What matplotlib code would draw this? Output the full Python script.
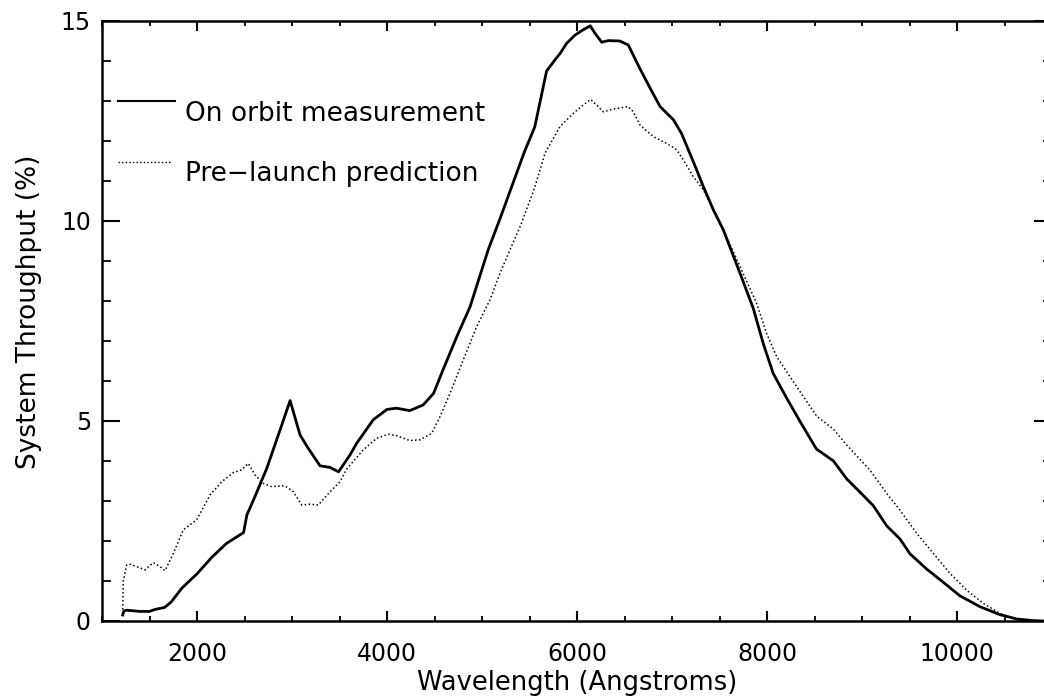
import matplotlib
matplotlib.use('Agg')
import matplotlib.pyplot as plt
from matplotlib.ticker import MultipleLocator, FixedLocator
from matplotlib.lines import Line2D

# On orbit measurement (solid)
wl_orbit = [1218, 1230, 1260, 1400, 1500, 1560, 1660, 1730, 1840, 2000,
            2155, 2310, 2490, 2525, 2610, 2735, 2875, 2980, 3085, 3170,
            3295, 3400, 3490, 3610, 3680, 3855, 4000, 4100, 4240, 4380,
            4490, 4590, 4735, 4875, 5065, 5190, 5445, 5555, 5680, 5775,
            5820, 5890, 5980, 6065, 6140, 6190, 6260, 6330, 6450, 6540,
            6660, 6770, 6875, 7015, 7100, 7225, 7330, 7435, 7540, 7715,
            7855, 7960, 8065, 8205, 8345, 8520, 8700, 8840, 9000, 9120,
            9260, 9400, 9505, 9680, 9855, 10030, 10240, 10450, 10630, 10800,
            10900]
tp_orbit = [0.15, 0.25, 0.27, 0.24, 0.24, 0.29, 0.34, 0.48, 0.82, 1.18,
            1.59, 1.94, 2.21, 2.65, 3.11, 3.82, 4.78, 5.51, 4.65, 4.32,
            3.88, 3.84, 3.73, 4.15, 4.44, 5.03, 5.29, 5.32, 5.26, 5.40,
            5.69, 6.28, 7.11, 7.86, 9.28, 10.06, 11.72, 12.35, 13.75, 14.05,
            14.18, 14.44, 14.65, 14.78, 14.88, 14.69, 14.47, 14.51, 14.50, 14.40,
            13.82, 13.32, 12.86, 12.53, 12.19, 11.48, 10.86, 10.28, 9.78, 8.70,
            7.82, 6.94, 6.19, 5.58, 5.00, 4.30, 4.00, 3.55, 3.17, 2.88,
            2.38, 2.05, 1.68, 1.30, 0.97, 0.63, 0.36, 0.16, 0.05, 0.01,
            0.0]

# Pre-launch prediction (dotted)
wl_pred = [1218, 1224, 1260, 1295, 1365, 1453, 1540, 1611, 1663, 1751,
           1856, 1997, 2137, 2260, 2382, 2471, 2540, 2611, 2698, 2786,
           2926, 3014, 3102, 3189, 3277, 3400, 3505, 3576, 3751, 3892,
           4014, 4102, 4242, 4347, 4470, 4558, 4663, 4803, 4944, 5084,
           5189, 5295, 5408, 5555, 5664, 5821, 5961, 6066, 6144, 6207,
           6277, 6382, 6540, 6593, 6663, 6803, 6944, 7049, 7119, 7224,
           7330, 7435, 7540, 7716, 7891, 7996, 8102, 8312, 8523, 8698,
           8839, 9084, 9260, 9400, 9576, 9751, 9926, 10102, 10277, 10453,
           10593, 10734, 10900]
tp_pred = [0.19, 1.00, 1.40, 1.42, 1.36, 1.28, 1.46, 1.36, 1.26, 1.69,
           2.28, 2.53, 3.15, 3.48, 3.71, 3.78, 3.94, 3.65, 3.44, 3.36,
           3.38, 3.23, 2.90, 2.92, 2.90, 3.23, 3.48, 3.80, 4.28, 4.57,
           4.67, 4.63, 4.51, 4.53, 4.69, 5.11, 5.69, 6.53, 7.36, 8.03,
           8.69, 9.28, 9.90, 10.84, 11.70, 12.36, 12.69, 12.90, 13.04, 12.90,
           12.73, 12.80, 12.86, 12.73, 12.40, 12.11, 11.94, 11.78, 11.53, 11.11,
           10.78, 10.28, 9.78, 8.86, 7.94, 7.19, 6.61, 5.86, 5.12, 4.80,
           4.40, 3.77, 3.19, 2.77, 2.19, 1.69, 1.19, 0.77, 0.44, 0.19,
           0.06, 0.01, 0.0]

x_ticks = [2000, 4000, 6000, 8000, 10000]
y_ticks = [0, 5, 10, 15]
labels = ["On orbit measurement", "Pre\u2212launch prediction"]

plt.rcParams['font.family'] = ['DejaVu Sans']
fig = plt.figure(figsize=(10.44, 6.98), dpi=100)
# right edge sits past the figure, as in the cropped scan
ax = fig.add_axes([102 / 1044, 77 / 698, 950 / 1044, 600 / 698])

ax.plot(wl_orbit, tp_orbit, color='black', lw=2.0, solid_joinstyle='round')
ax.plot(wl_pred, tp_pred, color='black', lw=1.1, linestyle=(0, (1, 1.6)))

ax.set_xlim(1000, 11000)
ax.set_ylim(0, 15)
ax.xaxis.set_major_locator(FixedLocator(x_ticks))
ax.xaxis.set_minor_locator(MultipleLocator(500))
ax.yaxis.set_major_locator(FixedLocator(y_ticks))
ax.yaxis.set_minor_locator(MultipleLocator(1))

ax.tick_params(axis='both', which='both', direction='in', top=True, right=True,
               color='black', labelsize=17)
ax.tick_params(axis='x', which='major', length=7.5, width=1.5, pad=15)
ax.tick_params(axis='x', which='minor', length=3.5, width=1.3)
ax.tick_params(axis='y', which='major', length=13, width=1.5, pad=8)
ax.tick_params(axis='y', which='minor', length=6.5, width=1.3)
for s in ax.spines.values():
    s.set_linewidth(1.8)

ax.set_xlabel("Wavelength (Angstroms)", fontsize=18.5)
ax.xaxis.set_label_coords(0.5, -0.081)
ax.set_ylabel("System Throughput (%)", fontsize=19)
ax.yaxis.set_label_coords(-0.063, 0.515)

# legend drawn IDL-style: sample line level with the top of the text
ax.add_line(Line2D([0.017, 0.077], [0.867, 0.867], transform=ax.transAxes,
                   color='black', lw=1.5))
ax.add_line(Line2D([0.017, 0.074], [0.765, 0.765], transform=ax.transAxes,
                   color='black', lw=1.0, linestyle=(0, (1, 1.6))))
ax.text(0.087, 0.845, labels[0], transform=ax.transAxes, fontsize=19, va='center')
ax.text(0.087, 0.745, labels[1], transform=ax.transAxes, fontsize=19, va='center')

fig.savefig('out.png', dpi=100)
